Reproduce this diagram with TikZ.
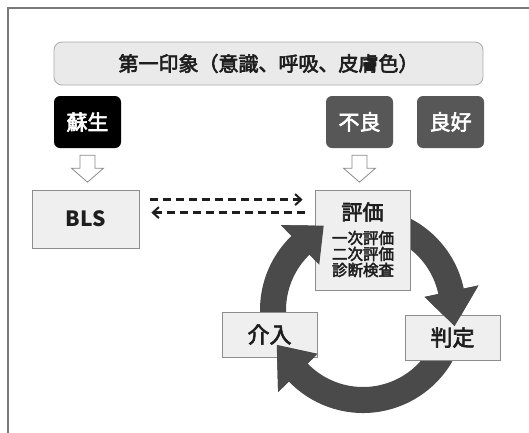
\documentclass[tikz,border=0pt]{standalone}
\usepackage{fontspec}
\setmainfont{Noto Sans CJK JP}
\newfontfamily\jpmed{Noto Sans CJK JP}[FakeBold=3]
\usetikzlibrary{arrows.meta,calc}
\definecolor{framecol}{HTML}{7A7A7A}
\definecolor{bannerfill}{HTML}{EAEAEA}
\definecolor{bannerdraw}{HTML}{AAAAAA}
\definecolor{boxfill}{HTML}{EFEFEF}
\definecolor{boxdraw}{HTML}{8C8C8C}
\definecolor{darkbox}{HTML}{575757}
\definecolor{ringcol}{HTML}{4A4A4A}
\definecolor{txt}{HTML}{1E1E1E}
\definecolor{hollowdraw}{HTML}{8A8A8A}
\newcommand\fs[1]{\fontsize{#1}{#1}\selectfont}
% start angle, base angle, tip angle
\newcommand\ringarrow[3]{%
  \fill[ringcol] (#1:103) arc[start angle=#1, end angle=#2, radius=103]
    -- (#2:118) -- (#3:93) -- (#2:63) -- (#2:77)
    arc[start angle=#2, end angle=#1, radius=77] -- cycle;}
\newcommand\ringhead[2]{%
  \fill[ringcol] (#1:118) -- (#2:93) -- (#1:63) -- cycle;}
\newcommand\hollowarrow[1]{%
  \draw[hollow] ($(#1.south)+(-7.5,7)$) -- ++(15,0) -- ++(0,13) -- ++(8.5,0)
    -- ++(-16,14) -- ++(-16,-14) -- ++(8.5,0) -- cycle;}
\begin{document}
\begin{tikzpicture}[x=1pt,y=-1pt,
  box/.style={draw=boxdraw, fill=boxfill, line width=0.8pt, inner sep=0pt, text=txt},
  darkbox/.style={rounded corners=6pt, inner sep=0pt, text=white, minimum width=67pt, minimum height=52pt, font=\jpmed\fs{21}},
  hollow/.style={draw=hollowdraw, fill=white, line width=0.8pt},
  dasharrow/.style={draw=txt, line width=2.3pt, dash pattern=on 8pt off 5pt, -{Straight Barb[length=6pt,width=11pt,line width=2pt]}}]
\useasboundingbox (0,0) rectangle (529,432);
\fill[white] (0,0) rectangle (529,432);
\draw[framecol, line width=1.5pt] (8,440) -- (8,8) -- (540,8);

% banner
\node[draw=bannerdraw, fill=bannerfill, rounded corners=8pt, minimum width=429pt, minimum height=43pt,
  inner sep=0pt, line width=0.8pt, font=\jpmed\fs{20}, text=txt] (banner) at (268.5,63.5) {第一印象（意識、呼吸、皮膚色）};

% top dark boxes
\node[darkbox, fill=black] (sosei) at (87.5,122) {蘇生};
\node[darkbox, fill=darkbox] (furyo) at (359.5,122) {不良};
\node[darkbox, fill=darkbox] (ryoko) at (450.5,122) {良好};

\hollowarrow{sosei}
\hollowarrow{furyo}

% cycle ring (tails)
\begin{scope}[shift={(363,310)}, yscale=-1]
  \ringarrow{200}{134}{115}
  \ringarrow{85}{12}{-10}
  \ringarrow{-20}{-136}{-158}
\end{scope}

% boxes
\node[box, minimum width=107pt, minimum height=58pt, font=\bfseries\fs{21}] (bls) at (85.5,219) {BLS};
\node[box, minimum width=95pt, minimum height=100pt] (hyouka) at (362.5,240) {};
\node[text=txt, font=\jpmed\fs{21}, inner sep=0pt] (hyoukaT) at (362.5,212) {評価};
\node[text=txt, font=\jpmed\fontsize{15.5}{16}\selectfont, align=center, inner sep=0pt] (hyoukaS) at (363,254) {一次評価\\二次評価\\診断検査};
\node[box, minimum width=95pt, minimum height=45pt, font=\jpmed\fs{22}] (kainyu) at (269.5,334.5) {介入};
\node[box, minimum width=95pt, minimum height=45pt, font=\jpmed\fs{22}] (hantei) at (452.5,337.5) {判定};

% arrow heads on top
\begin{scope}[shift={(363,310)}, yscale=-1]
  \ringhead{134}{115}
  \ringhead{12}{-10}
  \ringhead{-136}{-158}
\end{scope}

% dashed arrows
\draw[dasharrow] ($(bls.north east)+(11,10)$) -- ($(hyouka.north west)+(-12,10)$);
\draw[dasharrow] ($(hyouka.north west)+(-10,23)$) -- ($(bls.north east)+(12,23)$);
\end{tikzpicture}
\end{document}
